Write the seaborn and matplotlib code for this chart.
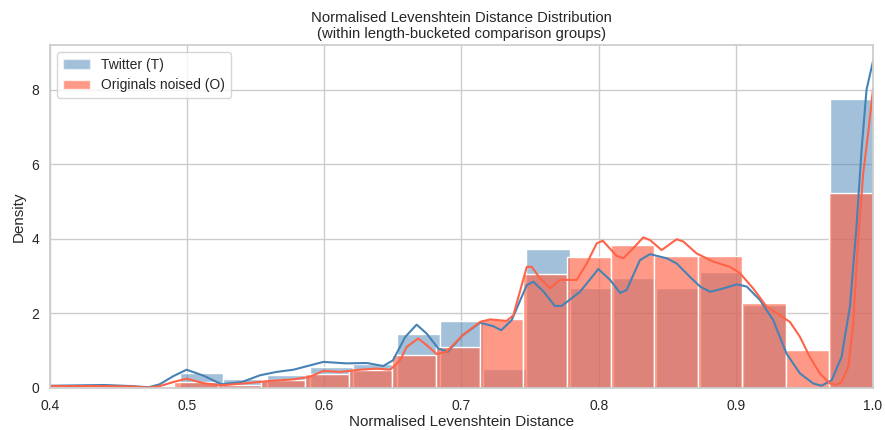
import numpy as np
import pandas as pd
import matplotlib
matplotlib.use("Agg")
import matplotlib.pyplot as plt
import matplotlib.patches as mpatches
import seaborn as sns

sns.set_theme(style="whitegrid")
plt.rcParams['font.family'] = ['Liberation Sans', 'DejaVu Sans']

# Istogrammi: densità per bin
twitter_binrange = (0.4, 1.0)
twitter_nbins = 19
twitter_density = [0.05, 0.05, 0.02, 0.41, 0.23, 0.34, 0.56, 0.65, 1.46, 1.80,
                   0.50, 3.73, 2.67, 2.95, 2.69, 3.12, 2.22, 0.04, 7.76]

orig_binrange = (0.3947, 1.0)
orig_nbins = 19
orig_density = [0.02, 0.03, 0.01, 0.17, 0.07, 0.21, 0.37, 0.49, 0.88, 1.09,
                1.84, 3.05, 3.52, 3.83, 3.55, 3.54, 2.28, 1.03, 5.22]

# Curve KDE
twitter_kde_x = [0.400, 0.420, 0.440, 0.460, 0.472, 0.480, 0.490, 0.4996, 0.512,
                 0.525, 0.540, 0.553, 0.565, 0.5774, 0.5993, 0.616, 0.631, 0.643,
                 0.650, 0.659, 0.6673, 0.6746, 0.6831, 0.690, 0.701, 0.7135, 0.723,
                 0.729, 0.7366, 0.7476, 0.7524, 0.760, 0.768, 0.773, 0.7864, 0.7998,
                 0.8083, 0.8156, 0.8204, 0.8301, 0.8374, 0.8496, 0.8569, 0.8666,
                 0.874, 0.8812, 0.8909, 0.9007, 0.908, 0.9176, 0.9273, 0.937,
                 0.9468, 0.9565, 0.9625, 0.9699, 0.9771, 0.9832, 0.988, 0.9917,
                 0.9953, 1.0]
twitter_kde_y = [0.06, 0.07, 0.08, 0.05, 0.02, 0.10, 0.32, 0.49, 0.33,
                 0.10, 0.16, 0.34, 0.43, 0.49, 0.70, 0.66, 0.67, 0.59,
                 0.74, 1.37, 1.70, 1.46, 1.06, 0.97, 1.42, 1.75, 1.66,
                 1.55, 1.82, 2.76, 2.85, 2.58, 2.20, 2.20, 2.58, 3.19,
                 2.90, 2.55, 2.63, 3.43, 3.59, 3.48, 3.34, 2.98,
                 2.72, 2.58, 2.67, 2.78, 2.72, 2.36, 1.82, 0.92,
                 0.39, 0.12, 0.06, 0.21, 0.83, 2.18, 4.33, 6.39,
                 8.00, 8.76]

orig_kde_x = [0.400, 0.420, 0.440, 0.460, 0.472, 0.480, 0.4899, 0.4996, 0.5118,
              0.524, 0.541, 0.5604, 0.5774, 0.5896, 0.5993, 0.6114, 0.626, 0.6382,
              0.6479, 0.6552, 0.660, 0.6685, 0.6746, 0.682, 0.689, 0.701, 0.7135,
              0.7208, 0.733, 0.7378, 0.7476, 0.7512, 0.7573, 0.7646, 0.7718, 0.784,
              0.7913, 0.7986, 0.803, 0.8132, 0.818, 0.8253, 0.8325, 0.8374, 0.8459,
              0.8569, 0.8617, 0.8714, 0.8836, 0.8957, 0.903, 0.9127, 0.9225,
              0.9322, 0.9395, 0.9468, 0.954, 0.9613, 0.9686, 0.9735, 0.977, 0.982,
              0.9856, 0.9892, 0.9929, 0.9965, 1.0]
orig_kde_y = [0.05, 0.05, 0.05, 0.04, 0.01, 0.05, 0.16, 0.25, 0.13,
              0.07, 0.12, 0.19, 0.23, 0.30, 0.46, 0.43, 0.49, 0.52,
              0.49, 0.74, 1.10, 1.33, 1.15, 0.91, 0.97, 1.42, 1.77,
              1.84, 1.80, 1.95, 3.25, 3.25, 2.94, 2.67, 2.90, 2.90,
              3.34, 3.88, 3.95, 3.54, 3.48, 3.75, 4.04, 3.97, 3.70,
              3.99, 3.93, 3.61, 3.39, 3.25, 3.08, 2.67, 2.18,
              1.95, 1.77, 1.37, 0.83, 0.39, 0.12, 0.09, 0.16, 0.56,
              1.73, 3.97, 5.76, 6.84, 8.00]

twitter_color = "steelblue"
orig_color = "tomato"


def bin_centres(binrange, nbins):
    edges = np.linspace(binrange[0], binrange[1], nbins + 1)
    return (edges[:-1] + edges[1:]) / 2


df_t = pd.DataFrame({"x": bin_centres(twitter_binrange, twitter_nbins), "d": twitter_density})
df_o = pd.DataFrame({"x": bin_centres(orig_binrange, orig_nbins), "d": orig_density})

fig, ax = plt.subplots(figsize=(8.85, 4.3), dpi=100)
fig.subplots_adjust(left=0.0565, right=0.9864, top=0.8953, bottom=0.0977)

sns.histplot(data=df_t, x="x", weights="d", bins=twitter_nbins, binrange=twitter_binrange,
             stat="count", color=twitter_color, alpha=0.5, edgecolor="white", linewidth=1, ax=ax)
sns.histplot(data=df_o, x="x", weights="d", bins=orig_nbins, binrange=orig_binrange,
             stat="count", color=orig_color, alpha=0.65, edgecolor="white", linewidth=1, ax=ax)

sns.lineplot(x=twitter_kde_x, y=twitter_kde_y, color=twitter_color, linewidth=1.5, ax=ax)
sns.lineplot(x=orig_kde_x, y=orig_kde_y, color=orig_color, linewidth=1.5, ax=ax)

ax.set_xlim(0.4, 1.0)
ax.set_ylim(0, 9.2)
ax.set_yticks([0, 2, 4, 6, 8])
ax.tick_params(labelsize=10, pad=2)
ax.set_xlabel("Normalised Levenshtein Distance", fontsize=10.9, labelpad=1.5)
ax.set_ylabel("Density", fontsize=10.9, labelpad=4)
ax.set_title("Normalised Levenshtein Distance Distribution\n(within length-bucketed comparison groups)",
             fontsize=10.7, pad=5)

handles = [
    mpatches.Patch(facecolor=twitter_color, alpha=0.5, edgecolor="white", label="Twitter (T)"),
    mpatches.Patch(facecolor=orig_color, alpha=0.65, edgecolor="white", label="Originals noised (O)"),
]
ax.legend(handles=handles, loc="upper left", fontsize=10)

fig.savefig("out.png", dpi=100)
